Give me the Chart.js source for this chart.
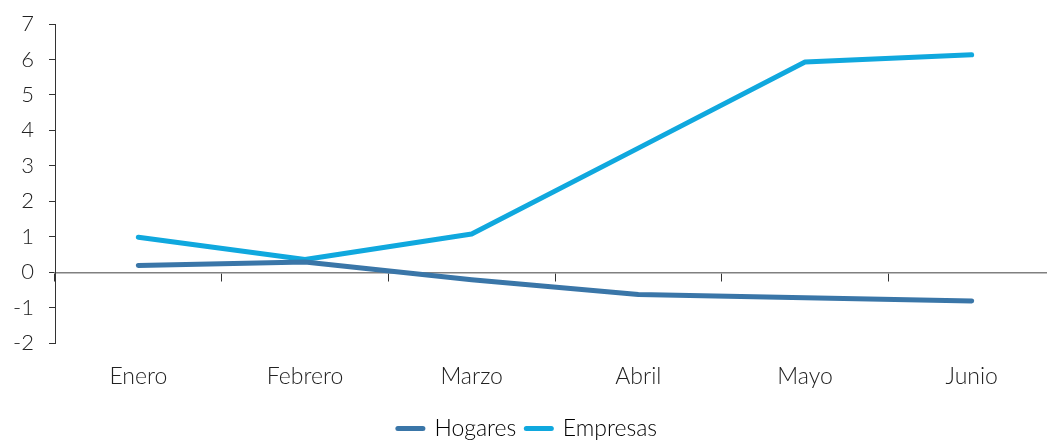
<!DOCTYPE html>
<html>
<head>
<meta charset="utf-8">
<script src="https://cdn.jsdelivr.net/npm/chart.js@4"></script>
<style>
html, body { margin: 0; padding: 0; overflow: hidden; background: #fff; }
#wrap { width: 1060px; height: 441px; }
</style>
</head>
<body>
<div id="wrap"><canvas id="c"></canvas></div>
<script>
const categories = ['Enero', 'Febrero', 'Marzo', 'Abril', 'Mayo', 'Junio'];
const hogares = [0.19, 0.29, -0.21, -0.63, -0.72, -0.81];
const empresas = [0.99, 0.36, 1.08, 3.5, 5.93, 6.13];
const seriesNames = ['Hogares', 'Empresas'];
const yTicks = { min: -2, max: 7, step: 1 };

const FONT = 'Lato, "Open Sans", sans-serif';

new Chart(document.getElementById('c'), {
  type: 'line',
  data: {
    labels: categories,
    datasets: [
      { label: seriesNames[0], data: hogares, borderColor: '#3a76a8', backgroundColor: '#3a76a8',
        borderWidth: 5, pointRadius: 0, borderCapStyle: 'round', borderJoinStyle: 'round', tension: 0 },
      { label: seriesNames[1], data: empresas, borderColor: '#10a8de', backgroundColor: '#10a8de',
        borderWidth: 5, pointRadius: 0, borderCapStyle: 'round', borderJoinStyle: 'round', tension: 0 }
    ]
  },
  options: {
    responsive: true,
    maintainAspectRatio: false,
    animation: false,
    layout: { padding: { left: 0, right: 5, top: 24, bottom: -9 } },
    plugins: {
      legend: {
        position: 'bottom',
        labels: {
          font: { family: FONT, size: 23, weight: '300' },
          color: '#222',
          padding: 10,
          usePointStyle: true,
          pointStyle: 'line',
          pointStyleWidth: 25,
          generateLabels: (chart) => chart.data.datasets.map((ds, i) => ({
            text: ds.label, fillStyle: ds.borderColor, strokeStyle: ds.borderColor,
            lineWidth: 5, lineCap: 'round', pointStyle: 'line', datasetIndex: i, hidden: false
          }))
        }
      },
      tooltip: { enabled: false }
    },
    scales: {
      x: {
        type: 'category',
        position: 'bottom',
        offset: true,
        grid: { display: false },
        border: { display: false },
        ticks: { font: { family: FONT, size: 23, weight: '300' }, color: '#222', padding: 12 },
        title: { display: true, text: ' ', font: { size: 1 }, padding: { top: 0, bottom: 18 } },
        afterFit: (s) => { s.height = s.height - 15; s.paddingLeft = 0; s.paddingRight = 0; }
      },
      x2: {
        type: 'category',
        position: { y: 0 },
        offset: true,
        grid: { offset: true, drawOnChartArea: false, drawTicks: true, tickLength: 8, tickColor: '#333', lineWidth: 1 },
        border: { display: true, color: '#808080', width: 1.5 },
        ticks: { display: false }
      },
      y: {
        min: yTicks.min,
        max: yTicks.max,
        ticks: { stepSize: yTicks.step, font: { family: FONT, size: 22, weight: '300' }, color: '#222', padding: 15 },
        grid: { drawOnChartArea: false, tickLength: 6, tickColor: '#333', lineWidth: 1 },
        border: { display: true, color: '#333', width: 1 },
        afterFit: (s) => { s.width = 55; s.paddingTop = 0; s.paddingBottom = 0; }
      }
    }
  }
});
</script>
</body>
</html>
